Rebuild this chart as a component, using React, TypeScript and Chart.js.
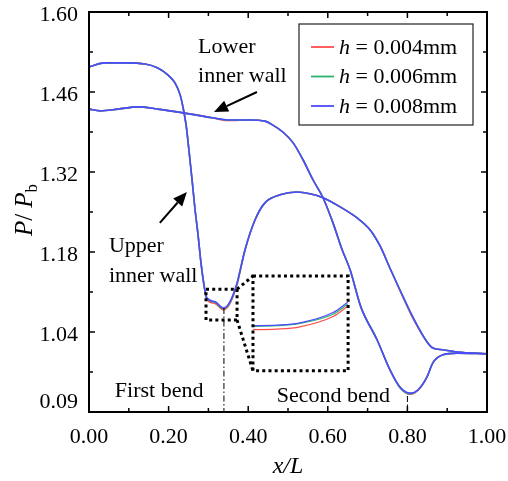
import React, { useEffect, useRef } from "react";
import { Chart, registerables } from "chart.js";

Chart.register(...registerables);

// ---------- data ----------
const upperX = [0.000, 0.040, 0.090, 0.141, 0.173, 0.198, 0.216, 0.229, 0.236, 0.244, 0.251, 0.259, 0.266, 0.274, 0.281, 0.289, 0.296, 0.317, 0.337, 0.349, 0.362, 0.372, 0.392, 0.417, 0.442, 0.480, 0.523, 0.555, 0.588, 0.631, 0.673, 0.706, 0.731, 0.756, 0.781, 0.814, 0.849, 0.864, 0.889, 0.925, 1.000];
const upper008 = [1.504, 1.511, 1.511, 1.509, 1.502, 1.490, 1.476, 1.455, 1.434, 1.402, 1.359, 1.306, 1.257, 1.210, 1.163, 1.122, 1.100, 1.093, 1.082, 1.087, 1.105, 1.126, 1.184, 1.236, 1.266, 1.280, 1.285, 1.282, 1.275, 1.259, 1.240, 1.219, 1.191, 1.152, 1.114, 1.066, 1.023, 1.012, 1.009, 1.005, 1.002];
const upper006 = [1.504, 1.511, 1.511, 1.509, 1.502, 1.490, 1.476, 1.455, 1.434, 1.402, 1.359, 1.306, 1.257, 1.210, 1.163, 1.122, 1.099, 1.092, 1.081, 1.086, 1.104, 1.125, 1.184, 1.236, 1.266, 1.280, 1.285, 1.282, 1.275, 1.259, 1.240, 1.219, 1.191, 1.152, 1.114, 1.065, 1.023, 1.012, 1.009, 1.005, 1.002];
const upper004 = [1.504, 1.511, 1.511, 1.509, 1.502, 1.490, 1.476, 1.455, 1.434, 1.402, 1.359, 1.306, 1.257, 1.210, 1.163, 1.121, 1.097, 1.090, 1.079, 1.084, 1.102, 1.123, 1.183, 1.236, 1.266, 1.280, 1.285, 1.282, 1.275, 1.259, 1.240, 1.219, 1.191, 1.152, 1.113, 1.064, 1.023, 1.012, 1.009, 1.005, 1.002];

const lowerX = [0.000, 0.028, 0.073, 0.123, 0.173, 0.241, 0.309, 0.349, 0.405, 0.442, 0.462, 0.487, 0.513, 0.538, 0.563, 0.588, 0.613, 0.636, 0.656, 0.683, 0.724, 0.756, 0.781, 0.807, 0.827, 0.849, 0.864, 0.889, 0.925, 1.000];
const lower008 = [1.430, 1.427, 1.430, 1.434, 1.430, 1.423, 1.415, 1.411, 1.411, 1.409, 1.402, 1.390, 1.371, 1.341, 1.306, 1.275, 1.231, 1.184, 1.149, 1.084, 1.026, 0.974, 0.944, 0.933, 0.939, 0.961, 0.986, 1.000, 1.003, 1.002];
const lower006 = [1.430, 1.427, 1.430, 1.434, 1.430, 1.423, 1.415, 1.411, 1.411, 1.409, 1.402, 1.390, 1.371, 1.341, 1.306, 1.275, 1.231, 1.184, 1.149, 1.084, 1.026, 0.974, 0.943, 0.932, 0.939, 0.961, 0.986, 1.000, 1.003, 1.002];
const lower004 = [1.430, 1.427, 1.430, 1.434, 1.430, 1.423, 1.415, 1.410, 1.411, 1.409, 1.402, 1.390, 1.371, 1.341, 1.306, 1.275, 1.231, 1.184, 1.149, 1.084, 1.026, 0.974, 0.943, 0.931, 0.938, 0.961, 0.986, 1.000, 1.003, 1.002];

// zoomed inset of the first bend (drawn in the enlarged dotted box)
const insetX = [0.412, 0.470, 0.530, 0.613, 0.650];
const inset008 = [1.051, 1.052, 1.056, 1.074, 1.092];
const inset006 = [1.050, 1.051, 1.055, 1.071, 1.089];
const inset004 = [1.044, 1.045, 1.049, 1.067, 1.085];

const seriesLabels = ["h = 0.004mm", "h = 0.006mm", "h = 0.008mm"];
const seriesColors = ["#ff4d4d", "#2db36b", "#4b4bff"];

const xTickLabels = ["0.00", "0.20", "0.40", "0.60", "0.80", "1.00"];
const yTickLabels = ["0.09", "1.04", "1.18", "1.32", "1.46", "1.60"];
const xTitle = "x/L";
const yTitleMain = "P";
const yTitleSub = "b";

// ---------- styling / annotation geometry (in data units) ----------
const SERIF = "'Liberation Serif','Times New Roman',serif";

const annotTexts: [string, number, number][] = [
  ["Lower", 0.274, 1.528],
  ["inner wall", 0.274, 1.4775],
  ["Upper", 0.05, 1.18],
  ["inner wall", 0.05, 1.1275],
  ["First bend", 0.065, 0.926],
  ["Second bend", 0.472, 0.9175],
];
const arrows: [number, number, number, number][] = [
  [0.422, 1.46, 0.314, 1.425],
  [0.178, 1.231, 0.246, 1.285],
];
const smallBox = [0.294, 0.372, 1.061, 1.115];
const bigBox = [0.412, 0.651, 0.972, 1.138];
const dashDotLines: [number, number, number][] = [
  [0.339, 1.082, 0.9],
  [0.8, 0.928, 0.9],
];

const pts = (xs: number[], ys: number[]) => xs.map((x, i) => ({ x, y: ys[i] }));

function drawRich(ctx: CanvasRenderingContext2D, parts: { t: string; it?: boolean; size: number; dy?: number }[], x: number, y: number, align: "left" | "center") {
  let total = 0;
  const widths = parts.map((p) => {
    ctx.font = `${p.it ? "italic " : ""}${p.size}px ${SERIF}`;
    const w = ctx.measureText(p.t).width;
    total += w;
    return w;
  });
  let cx = align === "center" ? x - total / 2 : x;
  parts.forEach((p, i) => {
    ctx.font = `${p.it ? "italic " : ""}${p.size}px ${SERIF}`;
    ctx.fillText(p.t, cx, y + (p.dy || 0));
    cx += widths[i];
  });
}

const decorPlugin = {
  id: "decor",
  afterDatasetsDraw(chart: any) {
    const { ctx, chartArea: a, scales } = chart;
    const xs = scales.x;
    const ys = scales.y;
    const X = (v: number) => xs.getPixelForValue(v);
    const Y = (v: number) => ys.getPixelForValue(v);
    const line = (x1: number, y1: number, x2: number, y2: number) => {
      ctx.beginPath();
      ctx.moveTo(x1, y1);
      ctx.lineTo(x2, y2);
      ctx.stroke();
    };
    ctx.save();
    ctx.fillStyle = "#000";
    ctx.strokeStyle = "#000";

    // frame
    ctx.lineWidth = 2;
    ctx.strokeRect(a.left, a.top, a.right - a.left, a.bottom - a.top);

    // inward ticks on all sides
    ctx.lineWidth = 1.5;
    xs.ticks.forEach((t: any, i: number) => {
      const p = X(t.value);
      const len = i % 2 === 0 ? 6 : 4;
      line(p, a.bottom, p, a.bottom - len);
      line(p, a.top, p, a.top + len);
    });
    ys.ticks.forEach((t: any, i: number) => {
      const p = Y(t.value);
      const len = i % 2 === 0 ? 6 : 4;
      line(a.left, p, a.left + len, p);
      line(a.right, p, a.right - len, p);
    });

    // dotted boxes + connectors
    ctx.lineWidth = 3;
    ctx.setLineDash([3, 3.2]);
    const box = (b: number[]) => {
      ctx.beginPath();
      ctx.rect(X(b[0]), Y(b[3]), X(b[1]) - X(b[0]), Y(b[2]) - Y(b[3]));
      ctx.stroke();
    };
    box(smallBox);
    box(bigBox);
    line(X(smallBox[1]), Y(smallBox[3]), X(bigBox[0]), Y(bigBox[3]));
    line(X(smallBox[1]), Y(smallBox[2]), X(bigBox[0]), Y(bigBox[2]));

    // dash-dot lines
    ctx.lineWidth = 1;
    ctx.setLineDash([6, 2.5, 1.5, 2.5]);
    dashDotLines.forEach(([x, y1, y2]) => line(X(x), Y(y1), X(x), Y(y2)));
    ctx.setLineDash([]);

    // arrows
    arrows.forEach(([x1, y1, x2, y2]) => {
      const px1 = X(x1), py1 = Y(y1), px2 = X(x2), py2 = Y(y2);
      const ang = Math.atan2(py2 - py1, px2 - px1);
      const hl = 14, hw = 6;
      const bx = px2 - hl * Math.cos(ang), by = py2 - hl * Math.sin(ang);
      ctx.lineWidth = 2;
      line(px1, py1, bx, by);
      ctx.beginPath();
      ctx.moveTo(px2, py2);
      ctx.lineTo(bx + hw * Math.sin(ang), by - hw * Math.cos(ang));
      ctx.lineTo(bx - hw * Math.sin(ang), by + hw * Math.cos(ang));
      ctx.closePath();
      ctx.fill();
    });

    // annotation texts
    ctx.textBaseline = "alphabetic";
    ctx.textAlign = "left";
    ctx.font = `22px ${SERIF}`;
    annotTexts.forEach(([t, x, y]) => ctx.fillText(t, X(x), Y(y)));

    // legend
    const lw = 174, lh = 101;
    const lx = a.right - 188, ly = a.top + 12;
    ctx.fillStyle = "#fff";
    ctx.fillRect(lx, ly, lw, lh);
    ctx.strokeStyle = "#222";
    ctx.lineWidth = 1.2;
    ctx.strokeRect(lx, ly, lw, lh);
    seriesLabels.forEach((lab, i) => {
      const ry = ly + 23 + i * 29.5;
      ctx.strokeStyle = seriesColors[i];
      ctx.lineWidth = 1.8;
      line(lx + 12, ry, lx + 35, ry);
      ctx.fillStyle = "#000";
      ctx.textBaseline = "middle";
      drawRich(ctx, [
        { t: lab.slice(0, 1), it: true, size: 22 },
        { t: lab.slice(1), size: 22 },
      ], lx + 40, ry + 1, "left");
    });

    // x title
    ctx.fillStyle = "#000";
    ctx.textBaseline = "alphabetic";
    drawRich(ctx, [{ t: xTitle, it: true, size: 24 }], (a.left + a.right) / 2, 473, "left" === "left" ? "center" : "center");

    // y title (rotated)
    ctx.save();
    ctx.translate(32, 210);
    ctx.rotate(-Math.PI / 2);
    drawRich(ctx, [
      { t: yTitleMain, it: true, size: 25 },
      { t: "/ ", size: 25 },
      { t: yTitleMain, it: true, size: 25 },
      { t: yTitleSub, size: 17, dy: 5 },
    ], 0, 0, "center");
    ctx.restore();

    ctx.restore();
  },
};

export default function App() {
  const ref = useRef<HTMLCanvasElement | null>(null);

  useEffect(() => {
    if (!ref.current) return;
    const groups = [
      { label: seriesLabels[2], color: seriesColors[2], upper: upper008, lower: lower008, inset: inset008 },
      { label: seriesLabels[1], color: seriesColors[1], upper: upper006, lower: lower006, inset: inset006 },
      { label: seriesLabels[0], color: seriesColors[0], upper: upper004, lower: lower004, inset: inset004 },
    ];
    const datasets: any[] = [];
    groups.forEach((g) => {
      const base = { label: g.label, borderColor: g.color, backgroundColor: g.color, pointRadius: 0, fill: false, cubicInterpolationMode: "monotone" };
      datasets.push({ ...base, data: pts(upperX, g.upper), borderWidth: 1.6 });
      datasets.push({ ...base, data: pts(lowerX, g.lower), borderWidth: 1.6 });
      datasets.push({ ...base, data: pts(insetX, g.inset), borderWidth: 1.2 });
    });

    const zeroPad = (s: any) => {
      s.paddingLeft = 0;
      s.paddingRight = 0;
      s.paddingTop = 0;
      s.paddingBottom = 0;
    };

    const chart = new Chart(ref.current, {
      type: "line",
      data: { datasets },
      options: {
        animation: false,
        responsive: false,
        maintainAspectRatio: false,
        layout: { padding: { left: 0, right: 21, top: 12, bottom: 0 } },
        plugins: { legend: { display: false }, tooltip: { enabled: false } },
        scales: {
          x: {
            type: "linear",
            min: 0,
            max: 1,
            border: { display: false },
            grid: { display: false, drawTicks: false },
            ticks: {
              stepSize: 0.1,
              autoSkip: false,
              maxRotation: 0,
              padding: 12,
              color: "#000",
              font: { family: SERIF, size: 22 },
              callback: (_v: any, i: number) => (i % 2 === 0 ? xTickLabels[i / 2] : ""),
            },
            afterFit: (s: any) => {
              s.height = 69;
              zeroPad(s);
            },
          },
          y: {
            type: "linear",
            min: 0.9,
            max: 1.6,
            border: { display: false },
            grid: { display: false, drawTicks: false },
            ticks: {
              stepSize: 0.07,
              autoSkip: false,
              padding: 11,
              labelOffset: 3,
              color: "#000",
              font: { family: SERIF, size: 22 },
              callback: (_v: any, i: number) =>
                i % 2 === 0 ? (i === 0 ? [yTickLabels[0], ""] : yTickLabels[i / 2]) : "",
            },
            afterFit: (s: any) => {
              s.width = 89;
              zeroPad(s);
            },
          },
        },
      } as any,
      plugins: [decorPlugin],
    });
    return () => chart.destroy();
  }, []);

  return (
    <div style={{ position: "fixed", left: 0, top: 0, width: 508, height: 481, background: "#fff" }}>
      <canvas ref={ref} width={508} height={481} style={{ display: "block" }} />
    </div>
  );
}
